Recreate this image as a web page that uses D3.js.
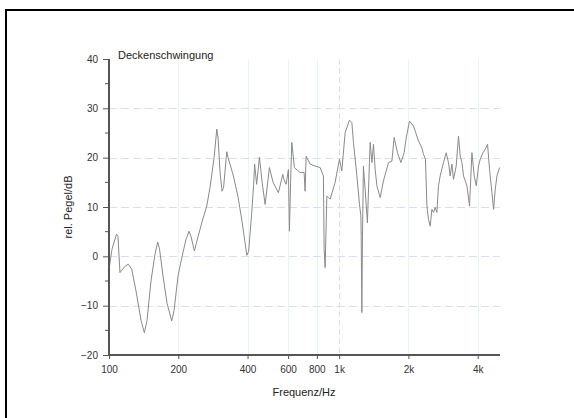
<!DOCTYPE html>
<html>
<head>
<meta charset="utf-8">
<script src="https://cdn.jsdelivr.net/npm/d3@7"></script>
<style>
  html, body { margin: 0; padding: 0; background: #fff; }
  svg { display: block; font-family: "Liberation Sans", Arial, sans-serif; }
</style>
</head>
<body>
<svg id="chart" width="574" height="418"></svg>
<script>
// ---- data ----
const title = "Deckenschwingung";
const xLabel = "Frequenz/Hz";
const yLabel = "rel. Pegel/dB";

const freqHz = [100.5, 103, 107.8, 109.4, 111.6, 117.4, 121.3, 125.5, 131, 137.8,
  142.4, 146.3, 152.2, 158.5, 162.8, 165.8, 171.7, 178.7, 187.3, 191.7,
  199.5, 207.1, 216.2, 222.8, 227.3, 234.9, 243.8, 253.7, 265.9, 274.9,
  286.1, 294, 297.8, 303.8, 310, 314.7, 324.9, 329.2, 347.1, 363.8,
  378.7, 397.1, 404.3, 416.6, 425, 429.3, 438, 450.5, 462.8, 476.9,
  497.7, 516.4, 544.6, 569.1, 576.6, 588.3, 602, 608, 615.3, 622.7,
  639.2, 656.7, 676.7, 704.3, 711.5, 718.6, 748, 786.5, 826.8, 854.5,
  860.6, 869.3, 884.2, 898.5, 913.9, 960.7, 1003, 1027, 1062, 1109,
  1136, 1154, 1194, 1226, 1243, 1247, 1255, 1263, 1275, 1297,
  1327, 1354, 1364, 1388, 1410, 1434, 1459, 1508, 1558, 1638,
  1695, 1734, 1793, 1855, 1917, 1956, 2021, 2104, 2212, 2288,
  2325, 2372, 2406, 2445, 2487, 2529, 2570, 2614, 2659, 2702,
  2748, 2841, 2918, 2986, 3037, 3090, 3141, 3226, 3301, 3358,
  3416, 3471, 3591, 3686, 3776, 3864, 3942, 4034, 4103, 4216,
  4314, 4415, 4504, 4613, 4688, 4768, 4850, 4978];

const levelDb = [-2.0, 1.4, 4.5, 4.0, -3.3, -2.0, -1.6, -2.6, -7, -13,
  -15.5, -13, -5, 0.5, 2.9, 1.5, -4, -9.5, -13.1, -11,
  -4, -0.3, 3.5, 5.1, 4.0, 1.1, 4, 7, 10.2, 14,
  20, 25.8, 24, 17, 13.2, 14, 21.2, 20, 16.3, 12,
  7, 0.2, 1, 8.5, 14.5, 18.7, 14.6, 20.1, 15, 10.5,
  18, 15, 12.9, 16.6, 15.5, 14.6, 17.6, 5.1, 15, 23.1,
  18, 17.5, 17, 17, 13.2, 20.3, 18.7, 18.3, 18, 16.3,
  1.4, -2.3, 12.2, 11.9, 11.6, 15, 19.7, 17.3, 25.1, 27.6,
  27.1, 23.1, 16.3, 10.5, 8.2, 4.1, -11.4, 4, 18.3, 13.6,
  6.8, 19, 23.1, 19, 22.7, 17.6, 14.3, 11.9, 15.3, 19,
  19.3, 24.1, 21, 19, 21, 24, 27.4, 26.4, 23.4, 22,
  20.7, 19.7, 10.2, 7.5, 6.1, 9.5, 8.9, 9.9, 8.9, 14.3,
  16.3, 19, 21, 19, 16.3, 18.7, 15.6, 18.3, 24.4, 20.3,
  19, 16.3, 14.3, 10.2, 21, 16.3, 14.3, 18.3, 19.7, 21,
  21.7, 22.7, 17.6, 12.9, 9.5, 13.6, 16.3, 18];

const xTickValues = [100, 200, 400, 600, 800, 1000, 2000, 4000];
const xTickLabels = ["100", "200", "400", "600", "800", "1k", "2k", "4k"];
const xGridGreen = [200, 400, 600, 800, 2000, 4000];
const xGridBlue = [1000];
const yTickValues = [-20, -10, 0, 10, 20, 30, 40];
const yMinorValues = [-15, -5, 5, 15, 25, 35];
const yGridValues = [-10, 0, 10, 20, 30];

// ---- drawing ----
const svg = d3.select("#chart");

const x = d3.scaleLog().domain([100, 5000]).range([109, 500]);
const y = d3.scaleLinear().domain([-20, 40]).range([355, 59]);

// frame (left & top visible; extends beyond viewport)
svg.append("rect")
  .attr("x", 6).attr("y", 10).attr("width", 620).attr("height", 460)
  .attr("fill", "none").attr("stroke", "#000").attr("stroke-width", 2);

// grid
const grid = svg.append("g");
grid.selectAll("line.gv").data(xGridGreen).join("line")
  .attr("x1", d => Math.round(x(d)) + 0.5).attr("x2", d => Math.round(x(d)) + 0.5)
  .attr("y1", y(40)).attr("y2", y(-20))
  .attr("stroke", "#e8f8e8").attr("stroke-width", 1);
grid.selectAll("line.gb").data(xGridBlue).join("line")
  .attr("x1", d => Math.round(x(d)) + 0.5).attr("x2", d => Math.round(x(d)) + 0.5)
  .attr("y1", y(40)).attr("y2", y(-20))
  .attr("stroke", "#dcdcf8").attr("stroke-width", 1)
  .attr("stroke-dasharray", "6,3");
grid.selectAll("line.gh").data(yGridValues).join("line")
  .attr("x1", x(100)).attr("x2", x(5000))
  .attr("y1", d => Math.round(y(d)) + 0.5).attr("y2", d => Math.round(y(d)) + 0.5)
  .attr("stroke", "#dcdcf8").attr("stroke-width", 1)
  .attr("stroke-dasharray", "8,4");

// data line
const data = freqHz.map((f, i) => [f, levelDb[i]]);
svg.append("path")
  .datum(data)
  .attr("fill", "none")
  .attr("stroke", "#8a8a8a")
  .attr("stroke-width", 1)
  .attr("stroke-linejoin", "round")
  .attr("d", d3.line().x(d => x(d[0])).y(d => y(d[1])));

// axes
const xAxis = d3.axisBottom(x)
  .tickValues(xTickValues)
  .tickFormat((d, i) => xTickLabels[i])
  .tickSize(4).tickPadding(7);
const gx = svg.append("g").attr("transform", "translate(0,355)").call(xAxis);
gx.select(".domain").attr("stroke", "#555").attr("stroke-width", 2).attr("d", `M${x(100)},0H${x(5000)}`);
gx.selectAll(".tick line").attr("stroke", "#555");
gx.selectAll(".tick text").attr("font-size", 10).attr("fill", "#333")
  .attr("font-family", "Liberation Sans, Arial, sans-serif");

const yAxis = d3.axisLeft(y)
  .tickValues(yTickValues)
  .tickFormat(d3.format("d"))
  .tickSize(6).tickPadding(5);
const gy = svg.append("g").attr("transform", "translate(109,0)").call(yAxis);
gy.select(".domain").attr("stroke", "#555").attr("stroke-width", 2).attr("d", `M0,${y(40)}V${y(-20)}`);
gy.selectAll(".tick line").attr("stroke", "#555");
gy.selectAll(".tick text").attr("font-size", 10).attr("fill", "#333")
  .attr("font-family", "Liberation Sans, Arial, sans-serif");

gy.selectAll("line.minor").data(yMinorValues).join("line")
  .attr("class", "minor")
  .attr("x1", -4).attr("x2", 0)
  .attr("y1", d => y(d)).attr("y2", d => y(d))
  .attr("stroke", "#555");

// labels
svg.append("text")
  .attr("x", 118).attr("y", 59)
  .attr("font-size", 11).attr("fill", "#222")
  .text(title);

svg.append("text")
  .attr("x", 304).attr("y", 396)
  .attr("text-anchor", "middle")
  .attr("font-size", 11).attr("fill", "#222")
  .text(xLabel);

svg.append("text")
  .attr("transform", "translate(72,207) rotate(-90)")
  .attr("text-anchor", "middle")
  .attr("font-size", 11).attr("fill", "#222")
  .text(yLabel);
</script>
</body>
</html>
